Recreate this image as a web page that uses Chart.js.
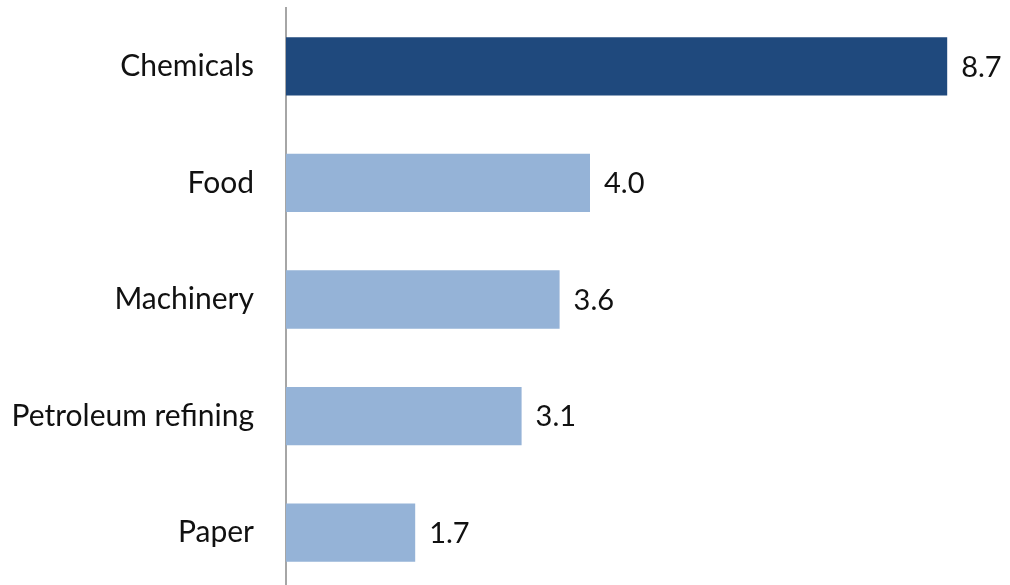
<!DOCTYPE html>
<html>
<head>
<meta charset="utf-8">
<script src="https://cdn.jsdelivr.net/npm/chart.js@4"></script>
<style>
    html, body { margin: 0; padding: 0; background: #fff; overflow: hidden; }
    #wrap { width: 1010px; height: 591px; }
</style>
</head>
<body>
<div id="wrap"><canvas id="barChart"></canvas></div>
<script>
const industries = ['Chemicals', 'Food', 'Machinery', 'Petroleum refining', 'Paper'];
const values = [8.7, 4.0, 3.6, 3.1, 1.7];
const barColors = ['#1F497D', '#95B3D7', '#95B3D7', '#95B3D7', '#95B3D7'];

const FONT = 'Lato, "Open Sans", sans-serif';

// value labels to the right of each bar
const valueLabels = {
    id: 'valueLabels',
    afterDatasetsDraw(chart) {
        const ctx = chart.ctx;
        const meta = chart.getDatasetMeta(0);
        ctx.save();
        ctx.font = '29px ' + FONT;
        ctx.fillStyle = '#111';
        ctx.textAlign = 'left';
        ctx.textBaseline = 'middle';
        meta.data.forEach((bar, i) => {
            ctx.fillText(values[i].toFixed(1), bar.x + 14, bar.y + 1);
        });
        ctx.restore();
    }
};

const ctx = document.getElementById('barChart').getContext('2d');
new Chart(ctx, {
    type: 'bar',
    data: {
        labels: industries,
        datasets: [{
            data: values,
            backgroundColor: barColors,
            barPercentage: 0.5,
            categoryPercentage: 1.0
        }]
    },
    options: {
        indexAxis: 'y',
        responsive: true,
        maintainAspectRatio: false,
        animation: false,
        layout: { padding: { top: 8, right: 2, bottom: 0, left: 0 } },
        plugins: {
            legend: { display: false },
            tooltip: { enabled: false }
        },
        scales: {
            x: {
                display: false,
                min: 0,
                max: 9.5
            },
            y: {
                afterFit: (scale) => {
                    scale.width = 286;
                    scale.paddingTop = 0;
                    scale.paddingBottom = 0;
                },
                grid: { display: false, drawTicks: false },
                border: { display: true, color: '#a6a6a6', width: 2 },
                ticks: {
                    padding: 32,
                    color: '#111',
                    font: { family: FONT, size: 30 }
                }
            }
        }
    },
    plugins: [valueLabels]
});
</script>
</body>
</html>
